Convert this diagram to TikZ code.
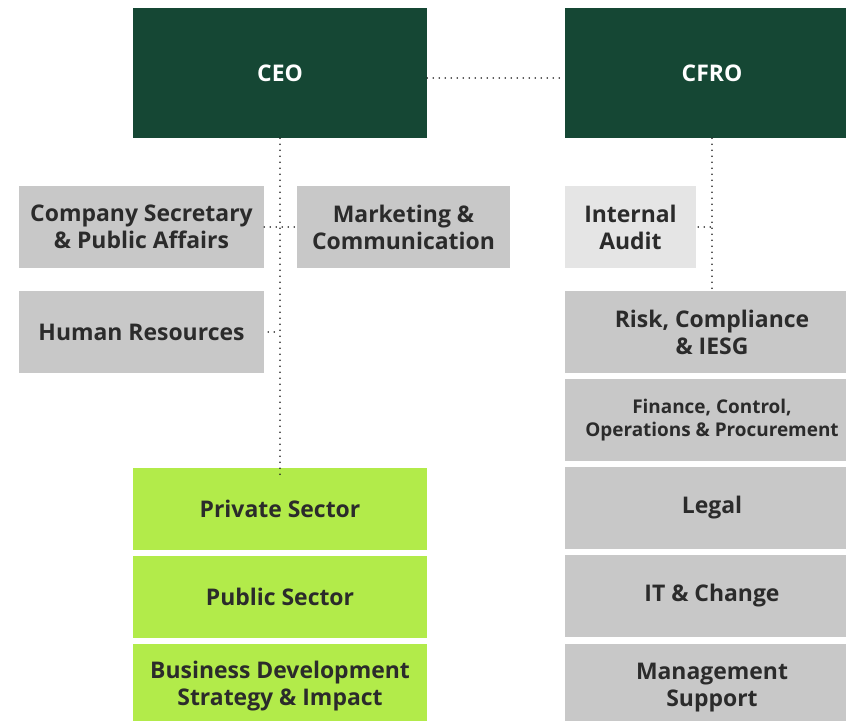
\documentclass[tikz,border=0pt]{standalone}
\usepackage{fontspec}
\setmainfont{Open Sans}
\begin{document}
\begin{tikzpicture}[x=0.75pt,y=-0.75pt,
  every node/.style={font=\bfseries\fontsize{17.2}{20.25}\selectfont, align=center, inner sep=0pt, text=txt},
  box/.style 2 args={minimum width=#1*0.75pt, minimum height=#2*0.75pt},
  top/.style={fill=dkgreen, text=white},
  grey/.style={fill=boxgrey},
  lgrey/.style={fill=lightgrey},
  lime/.style={fill=limegreen},
  dotline/.style={draw=dotcol, line width=1.4pt, line cap=round, dash pattern=on 0pt off 4.5pt}]
\definecolor{dkgreen}{HTML}{154734}
\definecolor{limegreen}{HTML}{B2EB4A}
\definecolor{boxgrey}{HTML}{C8C8C8}
\definecolor{lightgrey}{HTML}{E5E5E5}
\definecolor{txt}{HTML}{2B2B2B}
\definecolor{dotcol}{HTML}{222222}
\useasboundingbox (0,0) rectangle (846,721);
\clip (0,0) rectangle (846,721);
% top row
\node[top, box={294}{130}] (ceo) at (280,73) {CEO};
\node[top, box={294}{130}] (cfro) at (712,73) {CFRO};
% CEO staff
\node[grey, box={245}{82}] (cs) at (141.5,227) {Company Secretary\\ \& Public Affairs};
\node[grey, box={213}{82}] (mk) at (403.5,227) {Marketing \&\\ Communication};
\node[grey, box={245}{82}] (hr) at (141.5,332) {Human Resources};
% CFRO side
\node[lgrey, box={131}{82}] (ia) at (630.5,227) {Internal\\ Audit};
\node[grey, box={294}{82}] (risk) at (712,332) {Risk, Compliance\\ \& IESG};
\node[grey, box={294}{82}, font=\bfseries\fontsize{14.2}{17.25}\selectfont] (fin) at (712,420) {Finance, Control,\\ Operations \& Procurement};
\node[grey, box={294}{82}] (legal) at (712,508) {Legal};
\node[grey, box={294}{82}] (it) at (712,596) {IT \& Change};
\node[grey, box={294}{88}] (mgmt) at (712,688) {Management\\ Support};
% business lines
\node[lime, box={294}{82}] (priv) at (280,509) {Private Sector};
\node[lime, box={294}{82}] (pub) at (280,597) {Public Sector};
\node[lime, box={294}{84}] (bd) at (280,686) {Business Development\\ Strategy \& Impact};
% connectors
\draw[dotline] ([yshift=-3.75pt]ceo.east) -- ([yshift=-3.75pt]cfro.west);
\draw[dotline] (ceo.south) -- ([yshift=-6pt]priv.north);
\draw[dotline] (cs.east) -- (mk.west);
\draw[dotline] ([xshift=3pt]hr.east) -- (hr.east -| ceo.south);
\draw[dotline] (cfro.south) -- (risk.north);
\draw[dotline] ([xshift=1.5pt]ia.east) -- (ia.east -| cfro.south);
\end{tikzpicture}
\end{document}
